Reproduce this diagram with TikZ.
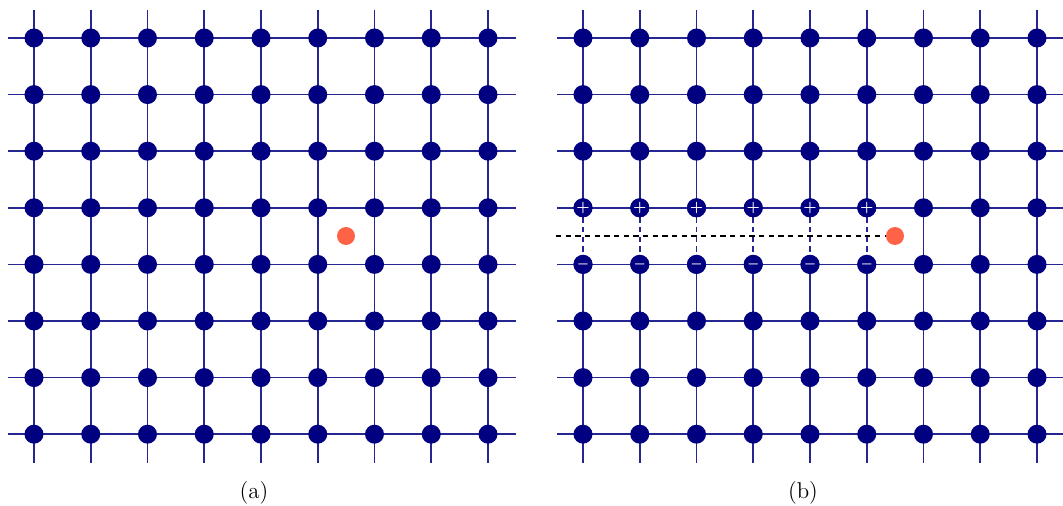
\documentclass[tikz,border=0pt]{standalone}
\definecolor{gridblue}{HTML}{000080}
\definecolor{tomato}{HTML}{FF6347}
\begin{document}
\begin{tikzpicture}[x=0.02cm,y=-0.02cm,
  gridline/.style={draw=gridblue!85!white,line width=0.9pt},
  dashline/.style={draw=gridblue!85!white,line width=0.9pt,dash pattern=on 3pt off 2.5pt},
  guide/.style={draw=black,line width=0.7pt,dash pattern=on 3pt off 2.5pt},
  dot/.style={circle,fill=gridblue,inner sep=0pt,minimum size=0.38cm,text=white,font=\fontsize{8}{8}\selectfont\bfseries},
  minusdot/.style={dot,font=\fontsize{7}{7}\selectfont\boldmath},
  charge/.style={circle,fill=tomato,inner sep=0pt,minimum size=0.36cm},
  caption/.style={font=\fontsize{13}{15}\selectfont}]
\useasboundingbox (0,0) rectangle (1063,506);
\foreach \g/\ox in {a/34,b/583}{
  \foreach \j in {0,...,7}{
    \pgfmathsetmacro{\yy}{38+56.6*\j}
    \coordinate (\g h\j L) at (\ox-26,\yy);
    \coordinate (\g h\j R) at (\ox+454+28,\yy);
    \draw[gridline] (\g h\j L) -- (\g h\j R);
  }
  \foreach \i in {0,...,8}{
    \pgfmathsetmacro{\xx}{\ox+56.75*\i}
    \coordinate (\g v\i T) at (\xx,10);
    \coordinate (\g v\i B) at (\xx,463);
  }
  \foreach \i in {0,...,8}{
    \foreach \j in {0,...,7}{
      \pgfmathsetmacro{\xx}{\ox+56.75*\i}
      \pgfmathsetmacro{\yy}{38+56.6*\j}
      \coordinate (\g p\i-\j) at (\xx,\yy);
    }
  }
}
% panel (a): full vertical lines
\foreach \i in {0,...,8}{\draw[gridline] (av\i T) -- (av\i B);}
% panel (b): full lines for columns 6..8
\foreach \i in {6,7,8}{\draw[gridline] (bv\i T) -- (bv\i B);}
% panel (b): columns 0..5 dashed between rows 3 and 4
\foreach \i in {0,...,5}{
  \draw[gridline] (bv\i T) -- (bp\i-3);
  \draw[dashline] (bp\i-3) -- (bp\i-4);
  \draw[gridline] (bp\i-4) -- (bv\i B);
}
% charges
\node[charge] (qa) at (346,236) {};
\node[charge] (qb) at (895,236) {};
\coordinate (gl) at (556,236);
\draw[guide] (gl) -- (qb);
% dots
\foreach \g in {a,b}{
  \foreach \i in {0,...,8}{
    \foreach \j in {0,...,7}{
      \node[dot] (\g\i-\j) at (\g p\i-\j) {};
    }
  }
}
\foreach \i in {0,...,5}{
  \node[dot] (bplus\i) at (bp\i-3) {+};
  \node[minusdot] (bminus\i) at (bp\i-4) {$-$};
}
\node[caption] (capa) at (254,493) {(a)};
\node[caption] (capb) at (803,493) {(b)};
\end{tikzpicture}
\end{document}
